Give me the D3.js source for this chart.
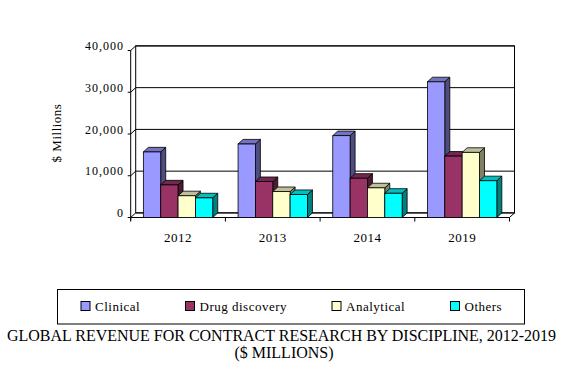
<!DOCTYPE html>
<html><head><meta charset="utf-8">
<script src="https://cdn.jsdelivr.net/npm/d3@7"></script>
<style>body{margin:0;background:#fff}svg{display:block}text{font-family:"Liberation Serif","Times New Roman",serif;fill:#000}</style>
</head><body><svg id="c" width="575" height="369"></svg>
<script>
const categories = ["2012","2013","2014","2019"];
const seriesNames = ["Clinical","Drug discovery","Analytical","Others"];
const clinical = [15700,17600,19600,32500];
const drugDiscovery = [7800,8600,9400,14700];
const analytical = [5200,6200,7100,15600];
const others = [4700,5500,5800,8800];
const yTicks = [0,10000,20000,30000,40000];
const seriesValues = [clinical, drugDiscovery, analytical, others];
const frontColors = ["#9999FF","#993366","#FFFFCC","#00FFFF"];
const sideColors = ["#4D4D80","#4D1A33","#808066","#008080"];
const topColors = ["#7373BF","#732650","#BFBF99","#00BFBF"];

const svg = d3.select("#c");
const DX = 5, DY = -4.6;
const x = d3.scaleBand().domain(categories).range([130.7, 509.5]).paddingInner(0).paddingOuter(0);
const y = d3.scaleLinear().domain([0,40000]).range([217.5, 50.5]);
const xs = d3.scaleBand().domain(seriesNames).range([0, x.bandwidth()]).paddingInner(0).paddingOuter(0.73);

const g = svg.append("g");
const x0 = x.range()[0], x1 = x.range()[1];
// back wall
g.append("rect").attr("x", x0+DX).attr("y", y(40000)+DY).attr("width", x1-x0).attr("height", y(0)-y(40000))
 .attr("fill","#fff").attr("stroke","#000").attr("stroke-width",1);
yTicks.forEach(t=>{
  g.append("line").attr("x1",x0+DX).attr("x2",x1+DX).attr("y1",y(t)+DY).attr("y2",y(t)+DY).attr("stroke","#000");
  g.append("line").attr("x1",x0).attr("x2",x0+DX).attr("y1",y(t)).attr("y2",y(t)+DY).attr("stroke","#000");
  g.append("line").attr("x1",x0-3).attr("x2",x0).attr("y1",y(t)).attr("y2",y(t)).attr("stroke","#000");
  g.append("text").attr("x",124).attr("y",y(t)+DY).attr("dy","0.35em").attr("text-anchor","end")
   .style("font-size","12px").style("letter-spacing","1px").text(d3.format(",")(t));
});
// floor
g.append("line").attr("x1",x0).attr("x2",x1).attr("y1",y(0)).attr("y2",y(0)).attr("stroke","#000");
g.append("line").attr("x1",x1).attr("x2",x1+DX).attr("y1",y(0)).attr("y2",y(0)+DY).attr("stroke","#000");
g.append("line").attr("x1",x0).attr("x2",x0).attr("y1",y(40000)).attr("y2",y(0)+3).attr("stroke","#000");
// category ticks
[...categories.map(c=>x(c)), x1].forEach(px=>{
  g.append("line").attr("x1",px).attr("x2",px).attr("y1",y(0)).attr("y2",y(0)+4).attr("stroke","#000");
});
categories.forEach(c=>{
  g.append("text").attr("x",x(c)+x.bandwidth()/2).attr("y",237).attr("dy","0.35em").attr("text-anchor","middle")
   .style("font-size","13px").style("letter-spacing","0.5px").text(c);
});
// bars
categories.forEach((c,ci)=>{
  seriesNames.forEach((s,si)=>{
    const v = seriesValues[si][ci];
    const bx = x(c)+xs(s), bw = xs.bandwidth(), by = y(v), bb = y(0);
    const side = [[bx+bw,bb],[bx+bw+DX,bb+DY],[bx+bw+DX,by+DY],[bx+bw,by]];
    const top = [[bx,by],[bx+DX,by+DY],[bx+bw+DX,by+DY],[bx+bw,by]];
    g.append("polygon").attr("points",side.join(" ")).attr("fill",sideColors[si]).attr("stroke","#000").attr("stroke-width",0.8);
    g.append("polygon").attr("points",top.join(" ")).attr("fill",topColors[si]).attr("stroke","#000").attr("stroke-width",0.8);
    g.append("rect").attr("x",bx).attr("y",by).attr("width",bw).attr("height",bb-by)
     .attr("fill",frontColors[si]).attr("stroke","#000").attr("stroke-width",0.8);
  });
});
// y title
svg.append("text").attr("transform","translate(56,133) rotate(-90)").attr("text-anchor","middle").attr("dy","0.35em")
 .style("font-size","13px").style("letter-spacing","0.5px").text("$ Millions");
// legend
svg.append("rect").attr("x",57.5).attr("y",289.5).attr("width",467).attr("height",34.5).attr("fill","#fff").attr("stroke","#000");
const legX = [81,185.5,332,450.5];
seriesNames.forEach((s,i)=>{
  svg.append("rect").attr("x",legX[i]).attr("y",301.5).attr("width",9).attr("height",9).attr("fill",frontColors[i]).attr("stroke","#000");
  svg.append("text").attr("x",legX[i]+14).attr("y",310.5).style("font-size","13px").style("letter-spacing","0.5px").text(s);
});
// title
svg.append("text").attr("x",281.5).attr("y",341).attr("text-anchor","middle").style("font-size","16px")
 .attr("textLength",549).attr("lengthAdjust","spacing").text("GLOBAL REVENUE FOR CONTRACT RESEARCH BY DISCIPLINE, 2012-2019");
svg.append("text").attr("x",284).attr("y",358).attr("text-anchor","middle").style("font-size","16px").text("($ MILLIONS)");
</script></body></html>
